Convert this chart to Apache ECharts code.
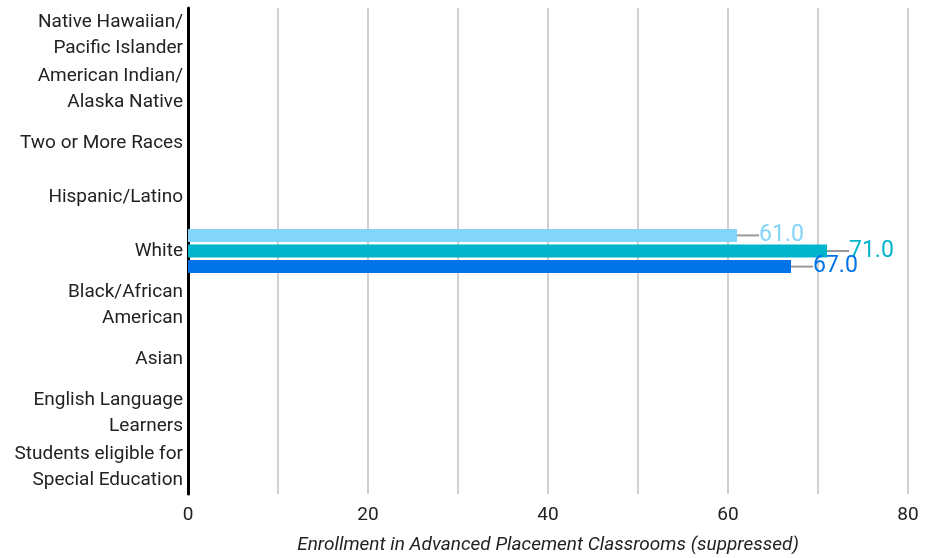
<!DOCTYPE html>
<html><head><meta charset="utf-8">
<script src="https://cdn.jsdelivr.net/npm/echarts@6/dist/echarts.min.js"></script>
<style>html,body{margin:0;padding:0;background:#fff}#c{width:936px;height:558px}</style>
</head><body><div id="c"></div>
<script>
const categories = [
  "Native Hawaiian/\nPacific Islander",
  "American Indian/\nAlaska Native",
  "Two or More Races",
  "Hispanic/Latino",
  "White",
  "Black/African\nAmerican",
  "Asian",
  "English Language\nLearners",
  "Students eligible for\nSpecial Education"
];
const seriesA = [null, null, null, null, 61.0, null, null, null, null];
const seriesB = [null, null, null, null, 71.0, null, null, null, null];
const seriesC = [null, null, null, null, 67.0, null, null, null, null];
const colors = ["#84D5FA", "#00B5CC", "#0073E8"];
const xTitle = "Enrollment in Advanced Placement Classrooms (suppressed)";

const chart = echarts.init(document.getElementById('c'));
function mk(data, color) {
  return {
    type: 'bar', data: data, barWidth: 13, barGap: '20%',
    itemStyle: {color: color},
    label: {show: true, position: 'right', distance: 22, color: color,
      fontFamily: 'Roboto', fontSize: 23,
      formatter: p => p.value == null ? '' : Number(p.value).toFixed(1)},
    labelLine: {show: true, lineStyle: {color: '#999', width: 2}},
    labelLayout: {dx: 0}
  };
}
chart.setOption({
  animation: false,
  grid: {left: 188, right: 28, top: 8, bottom: 64, containLabel: false, outerBoundsMode: 'none'},
  xAxis: {
    type: 'value', min: 0, max: 80, interval: 10,
    axisLine: {show: false}, axisTick: {show: false},
    splitLine: {lineStyle: {color: '#d0d0d0', width: 2}},
    axisLabel: {fontFamily: 'Roboto', fontSize: 19, color: '#222', margin: 12,
      formatter: v => v % 20 === 0 ? String(v) : ''},
    name: xTitle, nameLocation: 'middle', nameGap: 42,
    nameTextStyle: {fontFamily: 'Roboto', fontSize: 19, fontStyle: 'italic', color: '#222'}
  },
  yAxis: {
    type: 'category', data: categories, inverse: true,
    axisLine: {lineStyle: {color: '#000', width: 3}},
    axisTick: {show: false},
    axisLabel: {fontFamily: 'Roboto', fontSize: 19, color: '#222', lineHeight: 26, margin: 5}
  },
  series: [mk(seriesA, colors[0]), mk(seriesB, colors[1]), mk(seriesC, colors[2])]
});
</script></body></html>
